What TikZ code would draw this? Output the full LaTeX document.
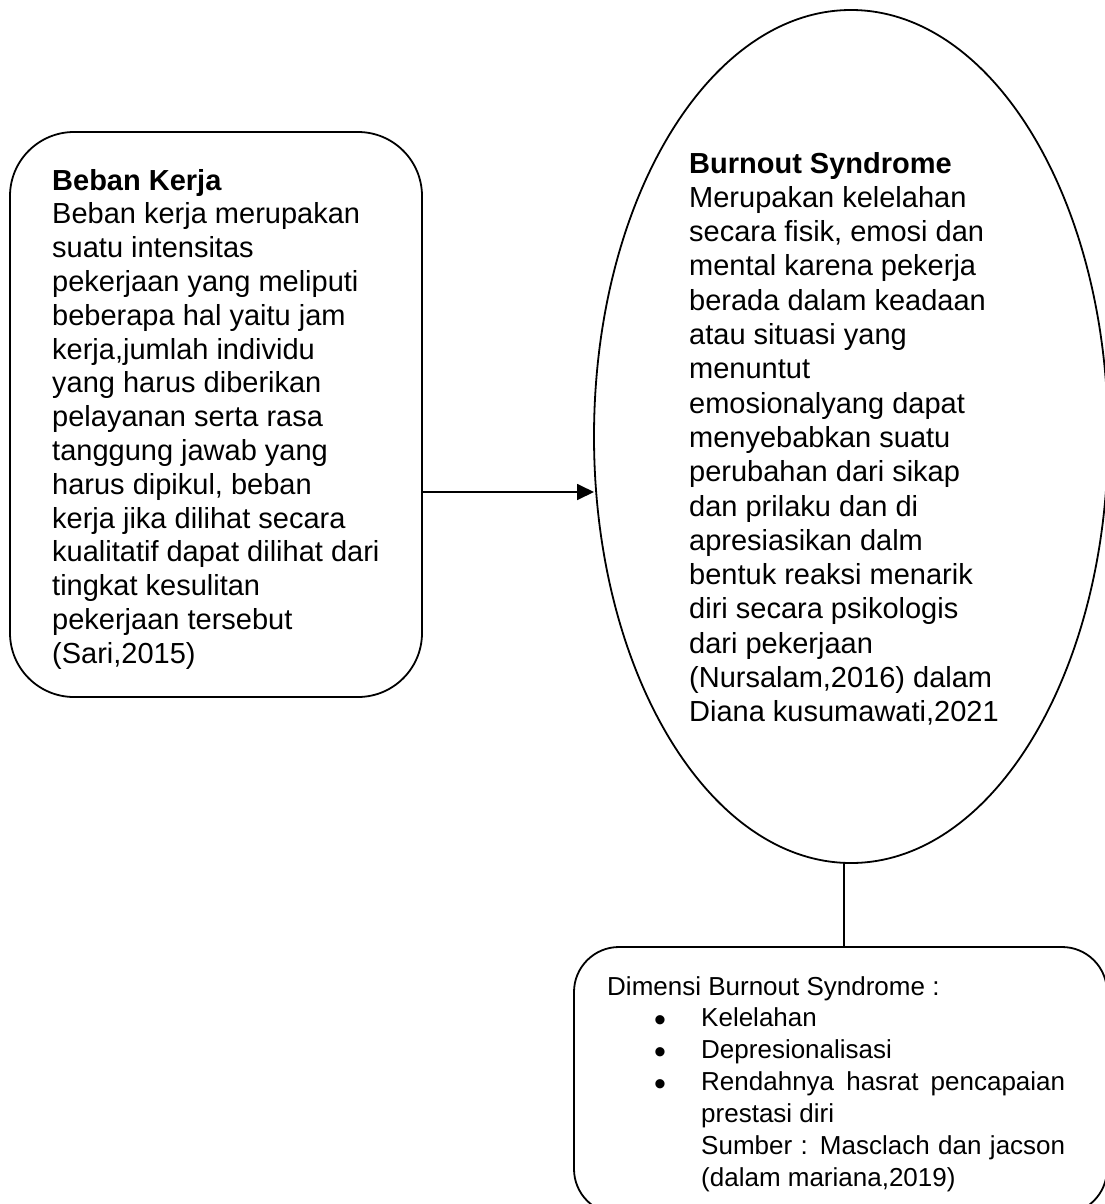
\documentclass[tikz,border=0pt]{standalone}
\usepackage{fontspec}
\setmainfont{Liberation Sans}
\usetikzlibrary{shapes.geometric,arrows.meta}
\begin{document}
\begin{tikzpicture}[x=1pt,y=1pt,
  roundbox/.style={draw, line width=1.8pt, inner sep=0pt, outer sep=0pt},
  oval/.style={draw, ellipse, line width=1.8pt, inner sep=0pt, outer sep=0pt},
  bodytext/.style={inner sep=0pt, align=left, anchor=base west, font=\fontsize{29}{33.8}\selectfont},
  ovaltext/.style={inner sep=0pt, align=left, anchor=base west, font=\fontsize{29}{34.3}\selectfont},
  smalltext/.style={inner sep=0pt, align=left, anchor=base west, font=\fontsize{26}{32}\selectfont},
  bullettext/.style={inner sep=0pt, align=center, anchor=base, font=\fontsize{34}{32}\selectfont},
  link/.style={line width=1.8pt},
  flow/.style={line width=1.8pt, -{Triangle[length=17pt,width=16pt]}}
]
\useasboundingbox (0,0) rectangle (1105,-1204);
\clip (0,0) rectangle (1105,-1204);

% shapes
\node[roundbox, rounded corners=64pt, minimum width=412pt, minimum height=565pt] (beban) at (216,-414.5) {};
\node[oval, minimum width=514pt, minimum height=853pt] (burnout) at (851,-436.5) {};
\node[roundbox, rounded corners=45pt, minimum width=533pt, minimum height=267pt] (dimensi) at (840.5,-1080.5) {};

% texts (anchored at the baseline of the last line)
\node[bodytext] (bebantext) at (52,-663.2) {\textbf{Beban Kerja}\\Beban kerja merupakan\\suatu intensitas\\pekerjaan yang meliputi\\beberapa hal yaitu jam\\kerja,jumlah individu\\yang harus diberikan\\pelayanan serta rasa\\tanggung jawab yang\\harus dipikul, beban\\kerja jika dilihat secara\\kualitatif dapat dilihat dari\\tingkat kesulitan\\pekerjaan tersebut\\(Sari,2015)};

\node[ovaltext] (burnouttext) at (689,-721.8) {\textbf{Burnout Syndrome}\\Merupakan kelelahan\\secara fisik, emosi dan\\mental karena pekerja\\berada dalam keadaan\\atau situasi yang\\menuntut\\emosionalyang dapat\\menyebabkan suatu\\perubahan dari sikap\\dan prilaku dan di\\apresiasikan dalm\\bentuk reaksi menarik\\diri secara psikologis\\dari pekerjaan\\(Nursalam,2016) dalam\\Diana kusumawati,2021};

\node[smalltext] (dimtitle) at (607,-995) {Dimensi Burnout Syndrome :};
\node[bullettext] (bullets) at (660,-1095) {•\\•\\•};
\node[smalltext] (items) at (701,-1186) {Kelelahan\\Depresionalisasi\\\makebox[364pt][s]{Rendahnya hasrat pencapaian}\\prestasi diri\\\makebox[364pt][s]{Sumber : Masclach dan jacson}\\(dalam mariana,2019)};

% connectors
\draw[flow] ([yshift=-77.5pt]beban.east) -- ([yshift=-55.5pt]burnout.west);
\draw[link] ([xshift=3.5pt]dimensi.north) -- ([xshift=3.5pt]dimensi.north |- burnout.south);
\end{tikzpicture}
\end{document}
